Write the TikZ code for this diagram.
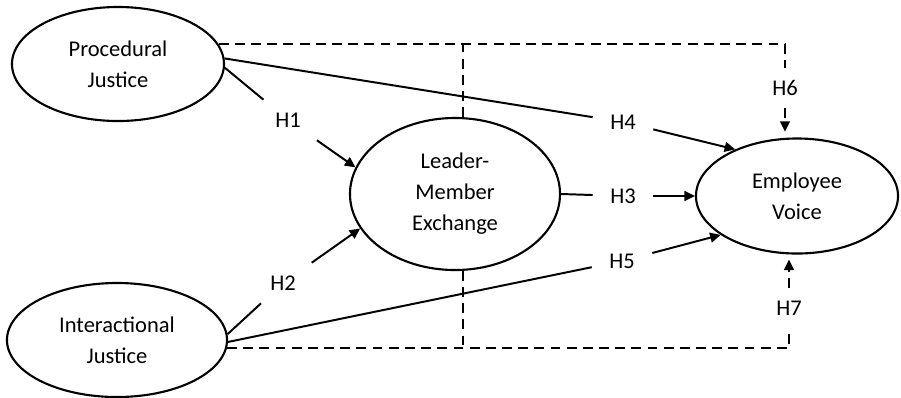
\documentclass[tikz,border=0pt]{standalone}
\usepackage{fontspec}
\setmainfont{Carlito}
\usepackage{tikz}
\usetikzlibrary{arrows.meta, shapes, calc}
\tikzset{
  construct/.style={draw, ellipse, line width=1.5pt, inner sep=0pt, align=center, font=\fontsize{16}{22}\selectfont},
  hyp/.style={minimum width=1.5cm, minimum height=1cm, inner sep=0pt, font=\fontsize{16}{22}\selectfont},
  solidlink/.style={line width=1.4pt},
  dashlink/.style={line width=1.4pt, dash pattern=on 7pt off 4.5pt},
  headed/.style={-{Triangle[length=7.5pt, width=7pt]}}
}

\begin{document}
\begin{tikzpicture}[x=0.025cm, y=-0.025cm]
        \useasboundingbox (0,0) rectangle (901,397);

        % Constructs
        \node[construct, minimum width=5.3cm, minimum height=2.85cm] (pj) at (118,64) {Procedural\\Justice};
        \node[construct, minimum width=5.5cm, minimum height=2.85cm] (ij) at (117,340) {Interactional\\Justice};
        \node[construct, minimum width=5.25cm, minimum height=3.8cm] (lmx) at (455,194) {Leader-\\Member\\Exchange};
        \node[construct, minimum width=5.05cm, minimum height=2.875cm] (ev) at (797,196) {Employee\\Voice};

        % Hypothesis labels
        \node[hyp] (h1) at (288,120) {H1};
        \node[hyp] (h2) at (283,283) {H2};
        \node[hyp] (h3) at (623,196) {H3};
        \node[hyp] (h4) at (623,122) {H4};
        \node[hyp] (h5) at (622,261) {H5};
        \node[hyp] (h6) at (785,88) {H6};
        \node[hyp] (h7) at (789,308) {H7};

        % Direct paths
        \draw[solidlink] (pj.-2) -- (h1);
        \draw[solidlink, headed] (h1) -- (lmx.165);
        \draw[solidlink] (ij.3) -- (h2);
        \draw[solidlink, headed] (h2) -- (lmx.200);
        \draw[solidlink] (lmx.east) -- (h3);
        \draw[solidlink, headed] (h3) -- (ev.west);
        \draw[solidlink] (pj.3.5) -- (h4);
        \draw[solidlink, headed] (h4) -- (ev.143);
        \draw[solidlink] (ij.-1) -- (h5);
        \draw[solidlink, headed] (h5) -- (ev.207);

        % Mediated paths
        \draw[dashlink] (pj.11) -| (h6);
        \draw[dashlink, headed, shorten >=4pt] (h6) -- (h6 |- ev.north);
        \draw[dashlink] (lmx.84) -- (lmx.84 |- pj.11);
        \draw[dashlink] (ij.-4) -| (h7);
        \draw[dashlink, headed, shorten >=3.5pt] (h7) -- (h7 |- ev.south);
        \draw[dashlink] (lmx.-84) -- (lmx.-84 |- ij.-4);
\end{tikzpicture}
\end{document}
